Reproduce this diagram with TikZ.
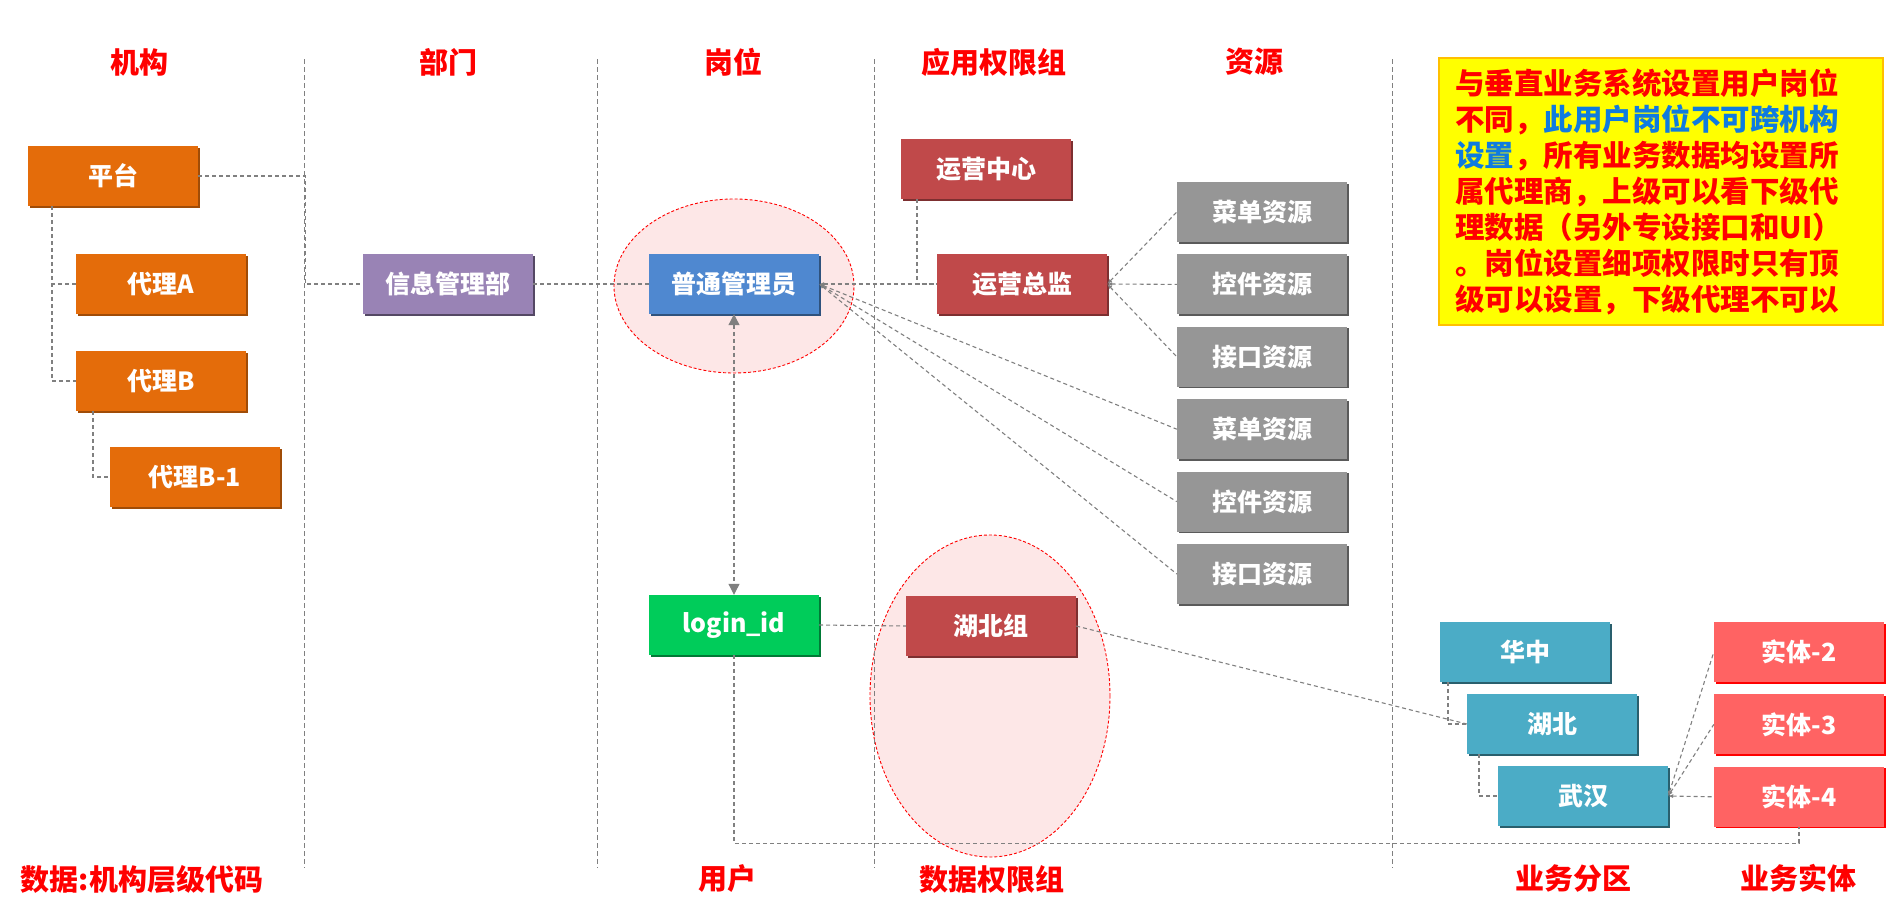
\documentclass[tikz,border=0pt]{standalone}
\usepackage{fontspec}
\setmainfont{Noto Sans CJK SC}
\usepackage{xcolor}
\usepackage{tikz}
\usetikzlibrary{arrows.meta,positioning,shapes.geometric,shadows}
\definecolor{permRed}{HTML}{FF0000}
\definecolor{permOrange}{HTML}{E46C0A}
\definecolor{permPurple}{HTML}{9983B5}
\definecolor{permBlue}{HTML}{4F88D0}
\definecolor{permBrick}{HTML}{C0494A}
\definecolor{permGray}{HTML}{969696}
\definecolor{permGreen}{HTML}{00CC5A}
\definecolor{permTeal}{HTML}{4BACC6}
\definecolor{permCoral}{HTML}{FF6363}
\definecolor{permLine}{HTML}{808080}
\definecolor{permPink}{HTML}{FDE7E7}
\definecolor{noteYellow}{HTML}{FFFF00}
\definecolor{noteOrange}{HTML}{FFC000}
\definecolor{noteBlue}{HTML}{0F7BDF}
\tikzset{
  cell/.style={
    rectangle,
    minimum width=170pt,
    minimum height=60pt,
    inner sep=0pt,
    text=white,
    font=\bfseries\fontsize{25}{30}\selectfont
  },
  orgbox/.style={cell, fill=permOrange,
    general shadow={fill=permOrange!70!black, shadow xshift=1.5pt, shadow yshift=-1.5pt}},
  deptbox/.style={cell, fill=permPurple,
    general shadow={fill=permPurple!55!black, shadow xshift=1.5pt, shadow yshift=-1.5pt}},
  postbox/.style={cell, fill=permBlue,
    general shadow={fill=permBlue!60!black, shadow xshift=1.5pt, shadow yshift=-1.5pt}},
  rolebox/.style={cell, fill=permBrick,
    general shadow={fill=permBrick!65!black, shadow xshift=1.5pt, shadow yshift=-1.5pt}},
  resbox/.style={cell, fill=permGray,
    general shadow={fill=permGray!60!black, shadow xshift=1.5pt, shadow yshift=-1.5pt}},
  userbox/.style={cell, fill=permGreen,
    general shadow={fill=permGreen!60!black, shadow xshift=1.5pt, shadow yshift=-1.5pt}},
  areabox/.style={cell, fill=permTeal,
    general shadow={fill=permTeal!55!black, shadow xshift=1.5pt, shadow yshift=-1.5pt}},
  entitybox/.style={cell, fill=permCoral,
    general shadow={fill=permRed, shadow xshift=1.5pt, shadow yshift=-1.5pt}},
  heading/.style={
    text=permRed,
    inner sep=0pt,
    font=\bfseries\fontsize{29}{34}\selectfont
  },
  zone/.style={
    ellipse,
    draw=permRed,
    fill=permPink,
    dash pattern=on 3pt off 2pt,
    line width=0.9pt,
    inner sep=0pt
  },
  sepline/.style={
    draw=permLine,
    dash pattern=on 5pt off 3pt,
    line width=0.9pt
  },
  link/.style={
    draw=permLine,
    dash pattern=on 4pt off 3pt,
    line width=1.1pt
  },
  fanlink/.style={
    link,
    arrows={Latex[length=5pt,width=4pt]-}
  },
  twoway/.style={
    link,
    arrows={Triangle[length=11pt,width=11pt]-Triangle[length=11pt,width=11pt]}
  },
  notebox/.style={
    rectangle,
    draw=noteOrange,
    fill=noteYellow,
    line width=2pt,
    minimum width=444pt,
    minimum height=267pt,
    text width=412pt,
    inner sep=0pt,
    align=left,
    text=permRed,
    font=\bfseries\fontsize{29.5}{36}\selectfont
  }
}

\begin{document}
\begin{tikzpicture}[x=1pt,y=-1pt,node distance=12pt]
  \useasboundingbox (0,0) rectangle (1900,918);

  % data scopes
  \node[zone, minimum width=240pt, minimum height=174pt] (postzone) at (734,286) {};
  \node[zone, minimum width=240pt, minimum height=322pt] (groupzone) at (990,696) {};

  % column separators
  \foreach \x in {304,597,874,1392}
    \draw[sepline] (\x,59) -- (\x,868);

  % column titles
  \node[heading] (hOrg) at (139,62) {机构};
  \node[heading] (hDept) at (448,62) {部门};
  \node[heading] (hPost) at (733,62) {岗位};
  \node[heading] (hApp) at (994,62) {应用权限组};
  \node[heading] (hRes) at (1254,62) {资源};
  \node[heading] (fOrg) at (142,879) {数据:机构层级代码};
  \node[heading] (fUser) at (727,879) {用户};
  \node[heading] (fData) at (992,879) {数据权限组};
  \node[heading] (fArea) at (1573,878) {业务分区};
  \node[heading] (fEntity) at (1798,878) {业务实体};

  % organisation
  \node[orgbox] (plat) at (113,176) {平台};
  \node[orgbox] (agA) at (161,284) {代理A};
  \node[orgbox] (agB) at (161,381) {代理B};
  \node[orgbox] (agB1) at (195,477) {代理B-1};
  \node[deptbox] (dept) at (448,284) {信息管理部};
  \node[postbox] (admin) at (734,284) {普通管理员};
  \node[userbox] (login) at (734,625) {login\_id};

  % application roles and resources
  \node[rolebox] (opsCenter) at (986,169) {运营中心};
  \node[rolebox] (opsChief) at (1022,284) {运营总监};
  \node[resbox] (menuA) at (1262,212) {菜单资源};
  \node[resbox,below=of menuA] (ctrlA) {控件资源};
  \node[resbox,below=of ctrlA] (apiA) {接口资源};
  \node[resbox,below=of apiA] (menuB) {菜单资源};
  \node[resbox,below=of menuB] (ctrlB) {控件资源};
  \node[resbox,below=of ctrlB] (apiB) {接口资源};

  % data groups, areas and entities
  \node[rolebox] (hbGroup) at (991,626) {湖北组};
  \node[areabox] (central) at (1525,652) {华中};
  \node[areabox] (hubei) at (1552,724) {湖北};
  \node[areabox] (wuhan) at (1583,796) {武汉};
  \node[entitybox] (ent2) at (1799,652) {实体-2};
  \node[entitybox,below=of ent2] (ent3) {实体-3};
  \node[entitybox,below=of ent3] (ent4) {实体-4};

  % note
  \node[notebox] (note) at (1661,191.5) {与垂直业务系统设置用户岗位\\
    不同，\textcolor{noteBlue}{此用户岗位不可跨机构}\\
    \textcolor{noteBlue}{设置}，所有业务数据均设置所\\
    属代理商，上级可以看下级代\\
    理数据（另外专设接口和UI）\\
    。岗位设置细项权限时只有顶\\
    级可以设置，下级代理不可以};

  % links
  \draw[link] ([xshift=-61pt]plat.south) |- (agA.west);
  \draw[link] ([xshift=-61pt]plat.south) |- (agB.west);
  \draw[link] ([xshift=-68pt]agB.south) |- (agB1.west);
  \draw[link] (plat.east) -- ++(107,0) |- (dept.west);
  \draw[link] (dept.east) -- (admin.west);
  \draw[fanlink] (admin.east) -- (opsChief.west);
  \draw[link] ([xshift=-69pt]opsCenter.south) |- (opsChief.west);
  \draw[fanlink] (opsChief.east) -- (menuA.west);
  \draw[fanlink] (opsChief.east) -- (ctrlA.west);
  \draw[fanlink] (opsChief.east) -- (apiA.west);
  \draw[fanlink] (admin.east) -- (menuB.west);
  \draw[fanlink] (admin.east) -- (ctrlB.west);
  \draw[fanlink] (admin.east) -- (apiB.west);
  \draw[twoway] (admin.south) -- (login.north);
  \draw[link] (login.east) -- (hbGroup.west);
  \draw[link] (hbGroup.east) -- (hubei.west);
  \draw[link] ([xshift=-77pt]central.south) |- (hubei.west);
  \draw[link] ([xshift=-73pt]hubei.south) |- (wuhan.west);
  \draw[fanlink] (wuhan.east) -- (ent2.west);
  \draw[fanlink] (wuhan.east) -- (ent3.west);
  \draw[fanlink] (wuhan.east) -- (ent4.west);
  \draw[link] (login.south) -- ++(0,188) -| (ent4.south);
\end{tikzpicture}
\end{document}
